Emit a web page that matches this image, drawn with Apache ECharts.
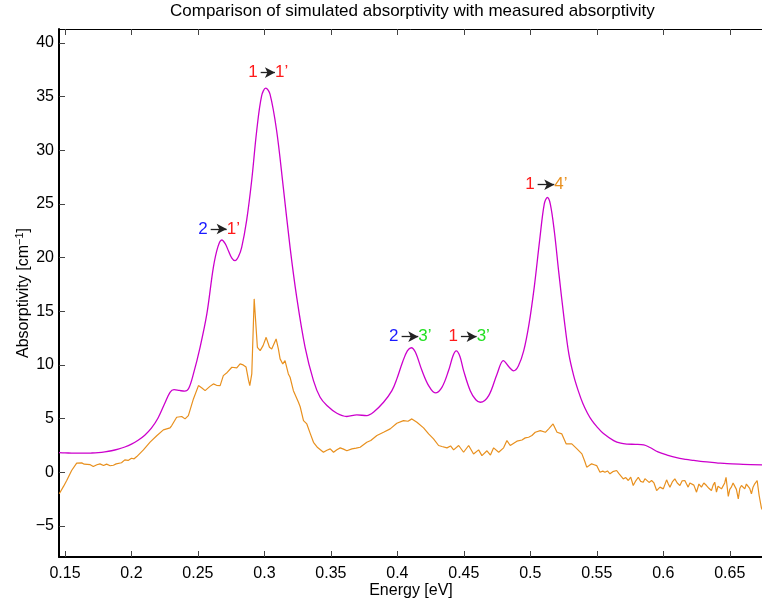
<!DOCTYPE html>
<html>
<head>
<meta charset="utf-8">
<script src="https://cdn.jsdelivr.net/npm/echarts@6/dist/echarts.min.js"></script>
<style>html,body{margin:0;padding:0;background:#fff;}#chart{width:762px;height:602px;}</style>
</head>
<body>
<div id="chart"></div>
<script>
// ---- Data ----
const simX = [0.1455,0.150,0.155,0.160,0.165,0.170,0.175,0.180,0.185,0.190,0.195,0.200,0.205,0.210,0.215,0.220,0.225,0.229,0.232,0.236,0.240,0.243,0.2466,0.2516,0.2567,0.2616,0.2650,0.2679,0.2705,0.2729,0.2755,0.2779,0.2805,0.2829,0.2866,0.2904,0.2942,0.2979,0.3010,0.3042,0.3092,0.3142,0.3193,0.3243,0.3306,0.3369,0.3419,0.347,0.3545,0.362,0.3695,0.377,0.382,0.3896,0.3959,0.3996,0.4040,0.4075,0.4104,0.4135,0.4185,0.4235,0.4285,0.4335,0.4385,0.4420,0.4443,0.4470,0.4498,0.4548,0.4590,0.4624,0.4687,0.4750,0.4797,0.4840,0.4874,0.4910,0.4950,0.4990,0.5030,0.5070,0.5105,0.5128,0.5150,0.5180,0.5215,0.5255,0.5290,0.5326,0.5360,0.5396,0.5430,0.5464,0.5500,0.5550,0.5627,0.5680,0.5728,0.5790,0.5853,0.5900,0.5960,0.6029,0.6100,0.6170,0.6230,0.6300,0.6400,0.6480,0.6600,0.6746];
const simY = [1.82,1.80,1.78,1.77,1.77,1.79,1.83,1.90,2.00,2.15,2.35,2.62,2.98,3.45,4.10,5.05,6.40,7.45,7.70,7.62,7.55,7.80,9.16,11.64,14.75,19.09,21.0,21.64,21.3,20.64,19.95,19.71,20.1,20.95,23.44,27.16,31.82,35.07,35.79,35.23,31.82,26.54,20.95,16.29,11.64,8.54,6.98,6.21,5.49,5.19,5.34,5.28,5.59,6.52,7.6,8.7,10.3,11.3,11.6,11.2,9.47,8.07,7.39,7.91,9.47,10.9,11.3,10.8,9.47,7.6,6.75,6.52,7.14,9.16,10.4,9.8,9.45,9.9,11.3,13.8,17.3,21.6,25.0,25.6,25.0,22.5,18.5,14.2,11.0,9.0,7.6,6.37,5.5,4.8,4.25,3.6,2.95,2.70,2.62,2.60,2.55,2.30,1.90,1.60,1.35,1.20,1.10,0.98,0.88,0.80,0.74,0.68];

const measX = [0.1457,0.1490,0.1513,0.1550,0.1588,0.1626,0.1645,0.1660,0.1690,0.1713,0.1740,0.1763,0.1790,0.1813,0.1840,0.1864,0.1885,0.1900,0.1925,0.1950,0.1975,0.2000,0.2020,0.2040,0.2090,0.2140,0.2190,0.2240,0.2265,0.2290,0.2303,0.2340,0.2378,0.2403,0.2428,0.2466,0.2504,0.2530,0.2554,0.2590,0.2616,0.2640,0.2667,0.2691,0.2720,0.2755,0.2792,0.2817,0.2840,0.2862,0.2880,0.2890,0.2905,0.2923,0.2938,0.2947,0.2968,0.2990,0.3013,0.3038,0.3055,0.3088,0.3105,0.3118,0.3138,0.3155,0.3180,0.3193,0.3218,0.3256,0.3269,0.3294,0.3319,0.3345,0.3369,0.3400,0.3444,0.3470,0.3495,0.3520,0.3545,0.3570,0.3595,0.3620,0.3658,0.3690,0.3720,0.3770,0.3800,0.3846,0.3896,0.3946,0.3996,0.4046,0.4080,0.4109,0.4147,0.4197,0.4235,0.4272,0.4310,0.4335,0.4373,0.4400,0.4423,0.4461,0.4498,0.4536,0.4573,0.4611,0.4636,0.4674,0.4700,0.4724,0.4762,0.4799,0.4824,0.4849,0.4899,0.4937,0.4962,0.4987,0.5012,0.5037,0.5075,0.5113,0.5138,0.5171,0.5201,0.5237,0.5270,0.5312,0.5351,
  0.5388,0.5410,0.5424,0.5440,0.5461,0.5480,0.5499,0.5512,0.5524,0.5545,0.5561,0.5580,0.5599,0.5620,0.5649,0.5665,0.5680,0.5699,0.5718,0.5737,0.5755,0.5774,0.5793,0.5812,0.5830,0.5849,0.5862,0.5875,0.5893,0.5912,0.5930,0.5950,0.5975,0.6000,0.6025,0.6038,0.6050,0.6068,0.6087,0.6105,0.6125,0.6142,0.6162,0.6175,0.6187,0.6200,0.6212,0.6230,0.6250,0.6268,0.6287,0.6305,0.6325,0.6343,0.6362,0.6375,0.6387,0.6400,0.6412,0.6425,0.6438,0.6450,0.6462,0.6472,0.6489,0.6500,0.6512,0.6525,0.6538,0.6550,0.6564,0.6576,0.6588,0.6600,0.6613,0.6625,0.6638,0.6650,0.6663,0.6675,0.6688,0.6706,0.6721,0.6738,0.6750];
const measY = [-2.0,-1.3,-0.77,0.16,0.84,0.87,0.75,0.82,0.70,0.53,0.70,0.78,0.62,0.75,0.60,0.65,0.78,0.93,0.88,1.15,1.10,1.30,1.25,1.46,2.08,2.80,3.40,3.95,4.04,4.13,4.35,5.12,5.19,4.97,5.28,6.83,8.07,7.85,7.60,8.00,8.23,8.10,8.07,9.00,9.30,9.78,9.72,10.09,10.0,9.80,8.60,8.07,9.16,16.15,16.3,11.64,11.33,11.8,12.57,11.64,11.49,12.42,11.5,10.56,10.09,10.40,9.16,8.85,7.60,6.52,6.10,4.81,4.5,3.6,2.79,2.3,1.86,2.05,2.18,1.86,2.1,2.27,2.15,2.00,2.18,2.25,2.33,2.79,2.95,3.42,3.72,4.04,4.56,4.81,4.75,4.97,4.66,4.13,3.57,3.11,2.49,2.40,2.27,2.45,2.08,2.49,1.86,2.49,1.70,2.08,1.55,2.00,1.60,2.27,1.86,2.27,2.95,2.49,2.89,3.00,3.20,3.26,3.42,3.72,3.88,3.72,4.04,4.50,3.72,3.57,2.64,2.64,2.18,
  1.71,1.0,0.47,0.60,0.78,0.70,0.62,0.75,0.00,0.10,0.00,0.12,-0.15,0.05,0.16,-0.10,-0.05,-0.62,-0.50,-0.77,-0.45,-1.24,-0.80,-0.47,-0.85,-0.93,-0.60,-0.47,-0.95,-0.77,-1.00,-1.71,-1.39,-1.55,-0.71,-1.10,-1.39,-0.90,-0.62,-1.00,-1.24,-0.80,-0.77,-1.10,-1.39,-1.00,-0.84,-1.20,-1.86,-1.10,-1.39,-1.00,-1.24,-1.50,-1.71,-1.20,-0.93,-1.86,-1.30,-1.24,-1.55,-1.71,-1.00,-0.47,-2.26,-1.60,-1.39,-1.00,-0.93,-1.60,-2.48,-1.50,-1.24,-1.40,-1.55,-1.10,-1.24,-1.50,-2.02,-1.40,-1.08,-0.77,-2.17,-3.32,-3.6];

const xTicks = [0.15,0.2,0.25,0.3,0.35,0.4,0.45,0.5,0.55,0.6,0.65];
const yTicks = [-5,0,5,10,15,20,25,30,35,40];

// transition annotations: arrow start x, arrow end x, y, labels
const annStartX = [0.2972,0.2596,0.4032,0.4478,0.5055];
const annEndX   = [0.3079,0.2716,0.4157,0.4596,0.5180];
const annY      = [37.24,22.66,12.63,12.63,26.79];
const annFrom   = ['1','2','2','1','1'];
const annTo     = ["1\u2019","1\u2019","3\u2019","3\u2019","4\u2019"];
const annFromKind = ['r','b','b','r','r'];
const annToKind   = ['r','r','g','g','o'];

const COLORS = {r:'#ff1a1a', b:'#1a1aff', g:'#22e022', o:'#e8901e'};
const SIM_COLOR = '#cc00cc';
const MEAS_COLOR = '#e8901e';
const FONT = '"Liberation Sans", Arial, Helvetica, sans-serif';

const chart = echarts.init(document.getElementById('chart'), null, {renderer:'canvas'});

const simData = simX.map((x,i)=>[x, simY[i]]);
const measData = measX.map((x,i)=>[x, measY[i]]);

const mpData = [];
const mlData = [];
for (let i=0;i<annY.length;i++){
  mpData.push({coord:[annStartX[i], annY[i]], symbol:'circle', symbolSize:0.1,
    itemStyle:{color:'rgba(0,0,0,0)'},
    label:{show:true, formatter:annFrom[i], position:'left', distance:3,
      color:COLORS[annFromKind[i]], fontSize:17, fontFamily:FONT}});
  mpData.push({coord:[annEndX[i], annY[i]], symbol:'circle', symbolSize:0.1,
    itemStyle:{color:'rgba(0,0,0,0)'},
    label:{show:true, formatter:annTo[i], position:'right', distance:0,
      color:COLORS[annToKind[i]], fontSize:17, fontFamily:FONT}});
  mlData.push([{coord:[annStartX[i], annY[i]]},{coord:[annEndX[i], annY[i]]}]);
}

const xMin = 0.1455, xMax = 0.675, yMin = -7.9, yMax = 41.3;
const fmtY = v => (v < 0 ? '\u2212' + Math.abs(v) : String(v));

const option = {
  animation:false,
  backgroundColor:'#fff',
  textStyle:{fontFamily:FONT},
  title:{text:'Comparison of simulated absorptivity with measured absorptivity',
    left:170, top:3, padding:0,
    textStyle:{fontSize:17, fontWeight:'normal', color:'#000', fontFamily:FONT}},
  grid:{left:59, top:29, bottom:45, right:-1, containLabel:false, outerBoundsMode:'none'},
  xAxis:[{
    type:'value', min:xMin, max:xMax, position:'bottom',
    name:'Energy [eV]', nameLocation:'middle', nameGap:26, nameMoveOverlap:false,
    nameTextStyle:{fontSize:16, color:'#000', fontFamily:FONT},
    axisLine:{show:true, onZero:false, lineStyle:{color:'#000', width:2}},
    axisTick:{show:true, inside:true, length:6, customValues:xTicks, lineStyle:{color:'#444', width:1}},
    axisLabel:{show:true, customValues:xTicks, formatter:v=>String(v), margin:9, fontSize:16, color:'#000', fontFamily:FONT},
    splitLine:{show:false}
  },{
    type:'value', min:xMin, max:xMax, position:'top',
    axisLine:{show:true, onZero:false, lineStyle:{color:'#000', width:1}},
    axisTick:{show:true, inside:true, length:6, customValues:xTicks, lineStyle:{color:'#444', width:1}},
    axisLabel:{show:false},
    splitLine:{show:false}
  }],
  yAxis:[{
    type:'value', min:yMin, max:yMax, position:'left',
    name:'Absorptivity [cm{sup|\u22121}]', nameLocation:'middle', nameGap:26, nameRotate:90, nameMoveOverlap:false,
    nameTextStyle:{fontSize:16, color:'#000', fontFamily:FONT,
      rich:{sup:{fontSize:11, color:'#000', fontFamily:FONT, verticalAlign:'top', padding:[0,0,8,0]}}},
    axisLine:{show:true, onZero:false, lineStyle:{color:'#000', width:2}},
    axisTick:{show:true, inside:true, length:6, customValues:yTicks, lineStyle:{color:'#444', width:1}},
    axisLabel:{show:true, customValues:yTicks, formatter:fmtY, margin:5, fontSize:16, color:'#000', fontFamily:FONT},
    splitLine:{show:false}
  }],
  series:[{
    name:'simulated', type:'line', data:simData, xAxisIndex:0, yAxisIndex:0,
    showSymbol:false, smooth:0.35, lineStyle:{color:SIM_COLOR, width:1.3}, itemStyle:{color:SIM_COLOR},
    markPoint:{silent:true, data:mpData},
    markLine:{silent:true, symbol:['none','arrow'], symbolSize:[8,10],
      lineStyle:{color:'#222', width:1.3, type:'solid'}, label:{show:false},
      emphasis:{disabled:true}, data:mlData}
  },{
    name:'measured', type:'line', data:measData, xAxisIndex:0, yAxisIndex:0,
    showSymbol:false, smooth:false, lineStyle:{color:MEAS_COLOR, width:1.2}, itemStyle:{color:MEAS_COLOR}
  }]
};
chart.setOption(option);
</script>
</body>
</html>
